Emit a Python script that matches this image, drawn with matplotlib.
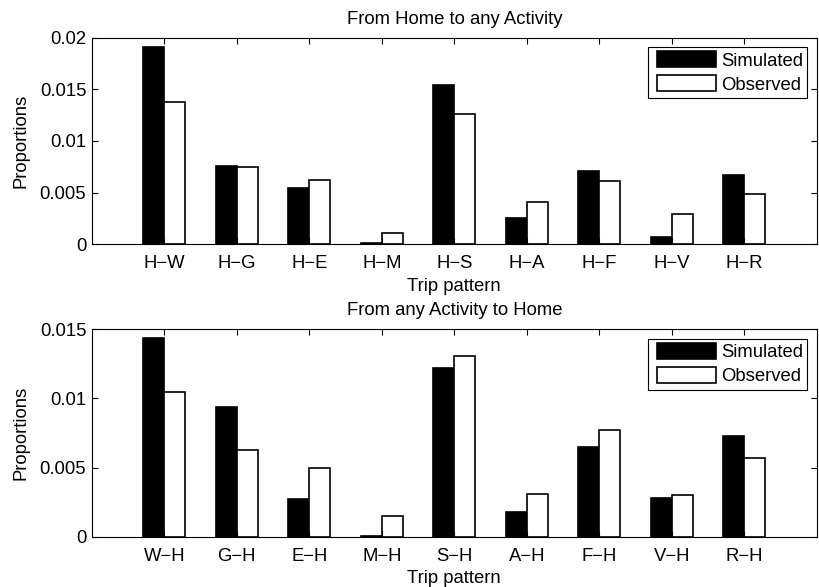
import matplotlib
matplotlib.use('Agg')
import matplotlib.pyplot as plt
from matplotlib.ticker import FuncFormatter
from matplotlib.patches import Rectangle
from matplotlib.container import BarContainer
from matplotlib.legend_handler import HandlerPatch, update_from_first_child
import numpy as np

plt.rcParams['font.family'] = ['Liberation Sans', 'DejaVu Sans']
plt.rcParams['font.size'] = 13.3

# From Home to any Activity
top_labels = ['H\u2212W', 'H\u2212G', 'H\u2212E', 'H\u2212M', 'H\u2212S',
              'H\u2212A', 'H\u2212F', 'H\u2212V', 'H\u2212R']
top_sim = [0.0191, 0.0076, 0.0054, 0.00016, 0.0154, 0.00255, 0.0071, 0.00068, 0.0067]
top_obs = [0.0138, 0.0075, 0.0062, 0.00113, 0.0126, 0.0041, 0.0061, 0.0029, 0.0049]

# From any Activity to Home
bot_labels = ['W\u2212H', 'G\u2212H', 'E\u2212H', 'M\u2212H', 'S\u2212H',
              'A\u2212H', 'F\u2212H', 'V\u2212H', 'R\u2212H']
bot_sim = [0.0144, 0.0094, 0.0027, 0.00007, 0.0122, 0.0018, 0.0065, 0.0028, 0.0073]
bot_obs = [0.0105, 0.0063, 0.0050, 0.00153, 0.0131, 0.0031, 0.0077, 0.0030, 0.0057]

fig = plt.figure(figsize=(8.2, 5.87), dpi=100)
ax1 = fig.add_axes([0.112, 0.584, 0.884, 0.352])
ax2 = fig.add_axes([0.112, 0.0857, 0.884, 0.3533])


# matlab legend boxes sit a bit in from the left edge of the legend frame
def inset_patch(legend, orig_handle, xdescent, ydescent, width, height, fontsize):
    dx = 0.21 * fontsize
    return Rectangle((-xdescent + dx, -ydescent), width - dx, height)


def draw(ax, labels, sim, obs, title, ymax, yticks):
    x = np.arange(1, len(labels) + 1)
    w = 0.29
    ax.bar(x - w / 2, sim, w, color='black', edgecolor='black',
           linewidth=1.2, label='Simulated')
    ax.bar(x + w / 2, obs, w, color='white', edgecolor='black',
           linewidth=1.2, label='Observed')
    ax.set_xlim(0, 10)
    ax.set_ylim(0, ymax)
    ax.set_xticks(x)
    ax.set_xticklabels(labels)
    ax.set_yticks(yticks)
    ax.yaxis.set_major_formatter(FuncFormatter(lambda v, p: '%g' % round(v, 6)))
    ax.tick_params(direction='in', top=True, right=True, length=4,
                   width=0.8, labelsize=13.3, pad=4)
    ax.tick_params(axis='x', pad=8)
    ax.set_title(title, fontsize=13.3, pad=10)
    ax.set_xlabel('Trip pattern', labelpad=4)
    ax.set_ylabel('Proportions', labelpad=7.5)
    for s in ax.spines.values():
        s.set_linewidth(0.8)
    hm = {BarContainer: HandlerPatch(patch_func=inset_patch,
                                     update_func=update_from_first_child)}
    leg = ax.legend(loc='upper right', fancybox=False, framealpha=1,
                    edgecolor='black', handlelength=3.43, handleheight=0.95,
                    handletextpad=0.25, borderpad=0.25, labelspacing=0.3,
                    borderaxespad=0.5, fontsize=13.3, handler_map=hm)
    leg.get_frame().set_linewidth(0.8)


draw(ax1, top_labels, top_sim, top_obs, 'From Home to any Activity', 0.02,
     [0, 0.005, 0.01, 0.015, 0.02])
draw(ax2, bot_labels, bot_sim, bot_obs, 'From any Activity to Home', 0.015,
     [0, 0.005, 0.01, 0.015])

fig.savefig('out.png', dpi=100)
